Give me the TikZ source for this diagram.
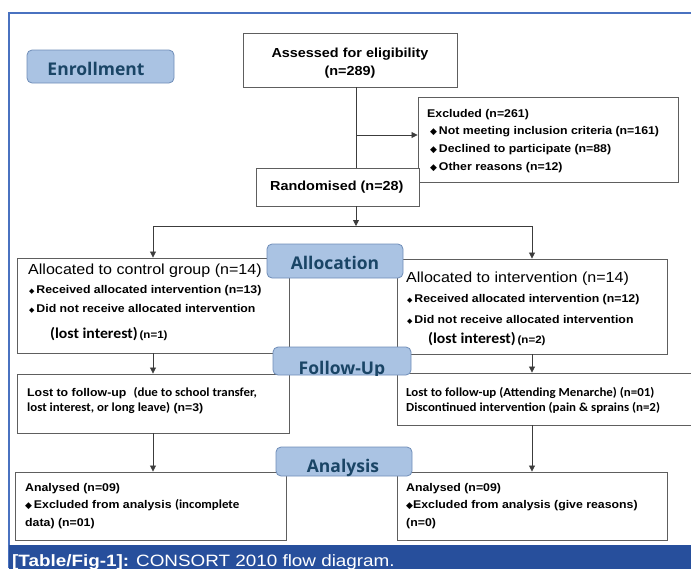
\documentclass[tikz,border=0pt]{standalone}
\usepackage{fontspec}
\usetikzlibrary{arrows.meta}
\setmainfont{Liberation Sans}[FakeStretch=1.1]
\newfontfamily\calfont{Carlito}[FakeStretch=1.05]
\newfontfamily\labfont{Open Sans}
\newfontfamily\symfont{DejaVu Sans}
\newfontfamily\capfont{Liberation Sans}[FakeStretch=1.15]
\definecolor{boxgray}{HTML}{5E5E5E}
\definecolor{linegray}{HTML}{3C3C3C}
\definecolor{labfill}{HTML}{AAC3E3}
\definecolor{labborder}{HTML}{6F8DB8}
\definecolor{labtext}{HTML}{1A4566}
\definecolor{framecol}{HTML}{4A72C0}
\definecolor{capblue}{HTML}{274F9C}
\newcommand\dmd[1]{{\symfont\fontsize{#1}{#1}\selectfont ◆}}
\newcommand\fs[1]{\fontsize{#1}{#1}\selectfont}
\tikzset{
  box/.style={draw=boxgray, line width=0.9pt, fill=white, inner sep=0pt},
  lab/.style={draw=labborder, fill=labfill, rounded corners=5pt, line width=0.8pt, inner sep=0pt},
  labtxt/.style={anchor=base, inner sep=0pt, text=labtext, font=\labfont\bfseries\fs{17.5}},
  txt/.style={anchor=base west, inner sep=0pt, font=\bfseries\fs{11.2}},
  ctxt/.style={anchor=base, inner sep=0pt, font=\bfseries\fs{13.1}},
  conn/.style={draw=linegray, line width=0.8pt},
  arr/.style={conn, -{Triangle[length=6pt,width=6pt]}}
}
\begin{document}
\begin{tikzpicture}[x=1pt,y={(0pt,-1pt)}]
\useasboundingbox (0,0) rectangle (691,568);
\clip (0,0) rectangle (691,568);
% frame
\draw[framecol, line width=1.5pt] (9,568) -- (9,13) -- (691,13);

% boxes
\node[box, minimum width=214pt, minimum height=54pt] (assess) at (350,60) {};
\node[box, minimum width=260pt, minimum height=85pt] (excl) at (548,139.5) {};
\node[box, minimum width=163pt, minimum height=38pt] (rand) at (337.5,187) {};
\node[box, minimum width=272pt, minimum height=95pt] (ctrl) at (153,305.5) {};
\node[box, minimum width=270pt, minimum height=95pt] (intv) at (532,306.5) {};
\node[box, minimum width=272pt, minimum height=59pt] (lostc) at (153,403.5) {};
\node[box, minimum width=298pt, minimum height=52pt] (losti) at (546,399) {};
\node[box, minimum width=271pt, minimum height=68pt] (anac) at (150.5,506) {};
\node[box, minimum width=270pt, minimum height=68pt] (anai) at (532,506) {};

% connectors
\coordinate (spine) at (356,0);
\coordinate (split) at (356,226);
\draw[conn] (assess.south -| spine) -- (rand.north -| spine);
\draw[arr] ([yshift=4.5pt]excl.west -| spine) -- ([yshift=4.5pt]excl.west);
\draw[arr] (rand.south -| spine) -- (split);
\draw[arr] (split) -| (ctrl.north);
\draw[arr] (split) -| (intv.north);
\draw[arr] (ctrl.south) -- (lostc.north);
\draw[arr] (intv.south) -- (intv.south |- losti.north);
\draw[arr] (lostc.south) -- (lostc.south |- anac.north);
\draw[arr] (anai.north |- losti.south) -- (anai.north);

% texts: assessed, randomised
\node[ctxt] (t-as1) at (350,57) {Assessed for eligibility};
\node[ctxt] (t-as2) at (350,75) {(n=289)};
\node[ctxt, anchor=base west] (t-rand) at (270,190) {Randomised (n=28)};

% excluded
\node[txt] (t-ex1) at (427,117) {Excluded (n=261)};
\node[txt] (t-ex2) at (430,134) {\dmd{9}\,Not meeting inclusion criteria (n=161)};
\node[txt] (t-ex3) at (430,152) {\dmd{9}\,Declined to participate (n=88)};
\node[txt] (t-ex4) at (430,170) {\dmd{9}\,Other reasons (n=12)};

% control
\node[txt, font=\fs{14.6}] (t-c1) at (28,274) {Allocated to control group (n=14)};
\node[txt] (t-c2) at (29,293) {\dmd{7}\,Received allocated intervention (n=13)};
\node[txt] (t-c3) at (29,312) {\dmd{7}\,Did not receive allocated intervention};
\node[txt] (t-c4) at (50,338) {{\calfont\fs{15}(lost interest)}\,{\fs{10.5}(n=1)}};

% intervention
\node[txt, font=\fs{14.6}] (t-i1) at (406,282) {Allocated to intervention (n=14)};
\node[txt] (t-i2) at (407,302) {\dmd{7}\,Received allocated intervention (n=12)};
\node[txt] (t-i3) at (407,323) {\dmd{7}\,Did not receive allocated intervention};
\node[txt] (t-i4) at (428,343) {{\calfont\fs{15}(lost interest)}\,{\fs{10.5}(n=2)}};

% lost to follow-up
\node[txt] (t-lc1) at (27,396) {Lost to follow-up\,\, {\calfont\fs{12.3}(due to school transfer,}};
\node[txt] (t-lc2) at (27,411) {{\calfont\fs{12.3}lost interest, or long leave)} (n=3)};
\node[txt, font=\calfont\bfseries\fs{12.3}] (t-li1) at (406,396) {Lost to follow-up (Attending Menarche) (n=01)};
\node[txt, font=\calfont\bfseries\fs{12.3}] (t-li2) at (406,411) {Discontinued intervention (pain \& sprains (n=2)};

% analysed
\node[txt] (t-ac1) at (25,491) {Analysed (n=09)};
\node[txt] (t-ac2) at (25,508) {\dmd{9}\,Excluded from analysis {\calfont\fs{12.3}(incomplete}};
\node[txt] (t-ac3) at (25,526) {data) (n=01)};
\node[txt] (t-ai1) at (406,491) {Analysed (n=09)};
\node[txt] (t-ai2) at (406,508) {\dmd{9}Excluded from analysis (give reasons)};
\node[txt] (t-ai3) at (406,526) {(n=0)};

% stage labels
\node[lab, minimum width=147pt, minimum height=33pt] (enroll) at (100.5,66.5) {};
\node[labtxt] (t-enroll) at (96,75) {Enrollment};
\node[lab, minimum width=136pt, minimum height=34pt] (alloc) at (335,261) {};
\node[labtxt] (t-alloc) at (335,269) {Allocation};
\node[lab, minimum width=138pt, minimum height=28pt] (follow) at (342,361) {};
\begin{scope}
  \clip (follow.south west) rectangle (follow.north east);
  \node[labtxt] (t-follow) at (342,374) {Follow-Up};
\end{scope}
\node[lab, minimum width=136pt, minimum height=29pt] (analysis) at (344,461.5) {};
\begin{scope}
  \clip (analysis.south west) rectangle (analysis.north east);
  \node[labtxt] (t-analysis) at (343,472) {Analysis};
\end{scope}

% caption bar
\fill[capblue] (9,545) rectangle (691,570);
\node[anchor=base west, inner sep=0pt, text=white, font=\capfont\fs{16.4}] (cap) at (12,566) {\textbf{[Table/Fig-1]:} CONSORT 2010 flow diagram.};
\end{tikzpicture}
\end{document}
